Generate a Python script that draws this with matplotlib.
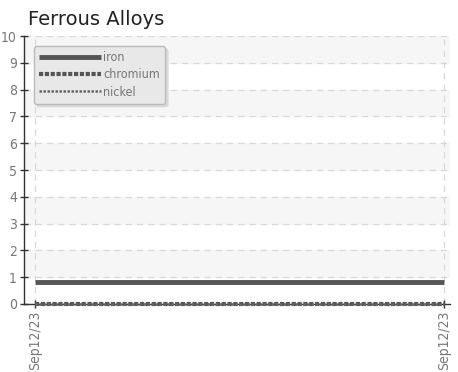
import matplotlib
matplotlib.use("Agg")
import matplotlib.pyplot as plt

dates = ["Sep12/23", "Sep12/23"]
iron = [0.8, 0.8]
chromium = [0, 0]
nickel = [0, 0]

plt.rcParams['font.family'] = ['DejaVu Sans']
plt.rcParams['font.stretch'] = 'condensed'

fig = plt.figure(figsize=(4.58, 3.72), dpi=100)
ax = fig.add_axes([0.052, 0.183, 0.931, 0.72])

x = list(range(len(dates)))
ax.plot(x, iron, color='#555555', lw=3.5, solid_capstyle='butt', label='iron', zorder=3)
ax.plot(x, chromium, color='#555555', lw=3, ls=(0, (1, 0.4)), label='chromium', zorder=4, clip_on=False)
ax.plot(x, nickel, color='#666666', lw=1.8, ls=(0, (1, 0.6)), label='nickel', zorder=4, clip_on=False)

ax.set_ylim(0, 10)
ax.set_xlim(-0.027, 1.015)
ax.set_yticks(range(0, 11))
ax.set_xticks(x)
ax.set_xticklabels(dates, rotation=90)

for k in range(1, 10, 2):
    ax.axhspan(k, k + 1, color='#f6f6f6', zorder=0)
ax.grid(True, ls=(0, (5, 4)), color='#d8d8d8', lw=0.9, zorder=1)
ax.set_axisbelow(True)

for s in ['top', 'right']:
    ax.spines[s].set_visible(False)
for s in ['left', 'bottom']:
    ax.spines[s].set_color('#333333')
    ax.spines[s].set_linewidth(1.0)
ax.tick_params(direction='inout', length=6, width=1, color='#333333',
               labelcolor='#777777', labelsize=10, pad=2)

ax.set_title("Ferrous Alloys", loc='left', x=0.01, fontsize=14,
             fontstretch='normal', color='#222222', pad=8)

leg = ax.legend(loc='upper left', bbox_to_anchor=(0.018, 0.972), handlelength=5.0,
                handletextpad=0.15, labelspacing=0.35, borderpad=0.4,
                borderaxespad=0.2, fontsize=9, frameon=True, fancybox=True,
                shadow={'color': '#d8d8d8', 'alpha': 1})
leg.get_frame().set_facecolor('#e8e8e8')
leg.get_frame().set_edgecolor('#bbbbbb')
leg.get_frame().set_alpha(1)
for t in leg.get_texts():
    t.set_color('#777777')

fig.savefig("out.png", dpi=100)
